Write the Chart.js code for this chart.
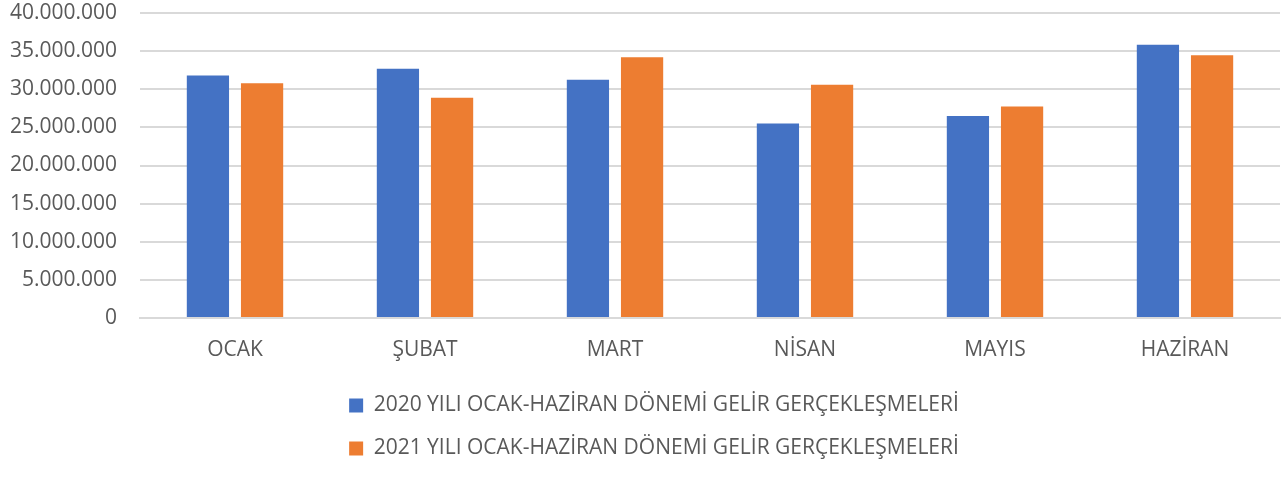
<!DOCTYPE html>
<html>
<head>
<meta charset="utf-8">
<script src="https://cdn.jsdelivr.net/npm/chart.js"></script>
<style>
  html, body { margin: 0; padding: 0; background: #fff; }
  #wrap { width: 1288px; height: 481px; }
</style>
</head>
<body>
<div id="wrap"><canvas id="gelirChart"></canvas></div>
<script>
var aylar = ['OCAK', 'ŞUBAT', 'MART', 'NİSAN', 'MAYIS', 'HAZİRAN'];
var gelir2020 = [31800000, 32700000, 31250000, 25500000, 26500000, 35850000];
var gelir2021 = [30800000, 28900000, 34200000, 30600000, 27750000, 34450000];
var eksenMax = 40000000;
var eksenAdim = 5000000;

function noktali(v) {
    return String(v).replace(/\B(?=(\d{3})+(?!\d))/g, '.');
}

Chart.defaults.font.family = '"Open Sans", sans-serif';
Chart.defaults.color = '#595959';

// legend biraz saga kaysin (orijinalde ortanin biraz sagi)
var legendKaydir = {
    id: 'legendKaydir',
    afterLayout: function (chart) {
        chart.legend.left += 14;
        chart.legend.right += 14;
    }
};

var config = {
    type: 'bar',
    data: {
        labels: aylar,
        datasets: [{
            label: '2020 YILI OCAK-HAZİRAN DÖNEMİ GELİR GERÇEKLEŞMELERİ',
            data: gelir2020,
            backgroundColor: '#4472C4'
        }, {
            label: '2021 YILI OCAK-HAZİRAN DÖNEMİ GELİR GERÇEKLEŞMELERİ',
            data: gelir2021,
            backgroundColor: '#ED7D31'
        }]
    },
    options: {
        responsive: true,
        maintainAspectRatio: false,
        animation: false,
        categoryPercentage: 0.57,
        barPercentage: 0.78,
        layout: {
            padding: { left: 0, right: 8, top: 0, bottom: 12 }
        },
        scales: {
            x: {
                grid: { display: false, drawTicks: false },
                border: { display: true, color: '#d9d9d9', width: 2 },
                ticks: { padding: 19, font: { size: 21 } },
                afterFit: function (axis) { axis.height = 55; }
            },
            y: {
                min: 0,
                max: eksenMax,
                grid: { color: '#d9d9d9', lineWidth: 2, drawTicks: false },
                border: { display: false },
                ticks: {
                    stepSize: eksenAdim,
                    padding: 23,
                    font: { size: 21 },
                    callback: function (v) { return noktali(v); }
                },
                afterFit: function (axis) {
                    axis.width = 140;
                    axis.paddingTop = 13;
                    axis.paddingBottom = 0;
                }
            }
        },
        plugins: {
            tooltip: { enabled: false },
            legend: {
                position: 'bottom',
                labels: {
                    boxWidth: 14,
                    boxHeight: 14,
                    padding: 22,
                    font: { size: 21 }
                }
            }
        }
    },
    plugins: [legendKaydir]
};

var ctx = document.getElementById('gelirChart').getContext('2d');
var chart = new Chart(ctx, config);
</script>
</body>
</html>
